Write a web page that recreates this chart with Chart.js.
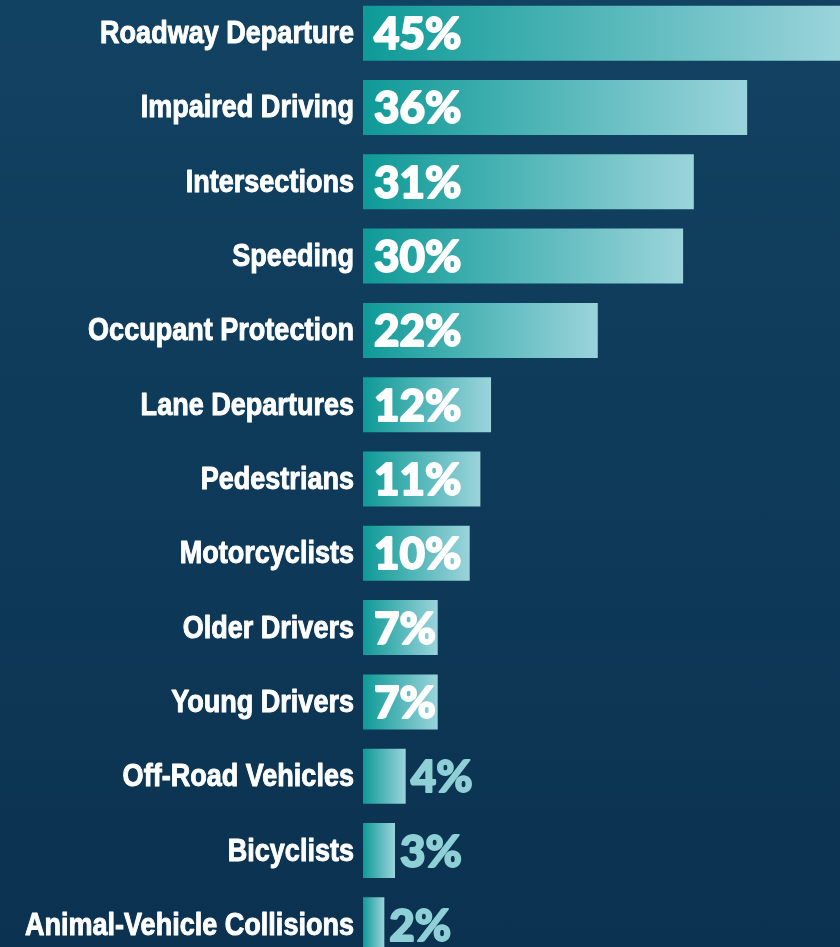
<!DOCTYPE html>
<html lang="en">
  <head>
    <meta charset="UTF-8" />
    <title>Emphasis areas</title>
    <script src="https://cdn.jsdelivr.net/npm/chart.js@4"></script>
    <style>
      html, body {
        margin: 0;
        width: 840px;
        height: 947px;
        overflow: hidden;
        background: linear-gradient(to bottom, #124262, #0b3250);
      }
      #wrap {
        position: absolute;
        left: 0;
        top: -4px;
      }
    </style>
  </head>
  <body>
    <div id="wrap"><canvas id="barChart" width="840" height="966"></canvas></div>
    <script>
      const categories = [
        "Roadway Departure", "Impaired Driving", "Intersections", "Speeding",
        "Occupant Protection", "Lane Departures", "Pedestrians", "Motorcyclists",
        "Older Drivers", "Young Drivers", "Off-Road Vehicles", "Bicyclists",
        "Animal-Vehicle Collisions"
      ];
      const values = [45, 36, 31, 30, 22, 12, 11, 10, 7, 7, 4, 3, 2];
      const insideMin = 7; // smaller values get their label outside the bar

      function barGradient(c) {
        const chart = c.chart;
        if (!chart.chartArea) return "#4fabb0";
        const x = chart.scales.x;
        const x0 = x.getPixelForValue(0);
        const x1 = x.getPixelForValue(values[c.dataIndex]);
        const g = chart.ctx.createLinearGradient(x0, 0, x1, 0);
        g.addColorStop(0, "#0e9a97");
        g.addColorStop(1, "#9bd4db");
        return g;
      }

      // category names, squeezed sideways to look like the condensed face of the original
      const categoryLabels = {
        id: "categoryLabels",
        afterDraw(chart) {
          const ctx = chart.ctx;
          const y = chart.scales.y;
          const right = chart.chartArea.left - 9;
          ctx.save();
          ctx.font = "bold 32px 'Liberation Sans', Arial, sans-serif";
          ctx.textAlign = "right";
          ctx.textBaseline = "alphabetic";
          ctx.fillStyle = "#ffffff";
          ctx.strokeStyle = "#ffffff";
          ctx.lineWidth = 1;
          ctx.lineJoin = "round";
          categories.forEach((name, i) => {
            ctx.save();
            ctx.translate(right, y.getPixelForTick(i) + 10);
            ctx.scale(0.845, 1);
            ctx.fillText(name, 0, 0);
            ctx.strokeText(name, 0, 0);
            ctx.restore();
          });
          ctx.restore();
        }
      };

      // percent labels, inside the bar (white) or just past its end (light teal)
      const valueLabels = {
        id: "valueLabels",
        afterDatasetsDraw(chart) {
          const ctx = chart.ctx;
          const meta = chart.getDatasetMeta(0);
          ctx.save();
          ctx.font = "900 44px Lato, 'DejaVu Sans', sans-serif";
          ctx.textBaseline = "alphabetic";
          ctx.textAlign = "left";
          ctx.lineWidth = 1.8;
          ctx.lineJoin = "round";
          meta.data.forEach((bar, i) => {
            const v = values[i];
            const txt = v + "%";
            const inside = v >= insideMin;
            const x = inside ? bar.base + 11 : bar.x + 5;
            ctx.fillStyle = ctx.strokeStyle = inside ? "#ffffff" : "#8fd0d6";
            ctx.fillText(txt, x, bar.y + 16);
            ctx.strokeText(txt, x, bar.y + 16);
          });
          ctx.restore();
        }
      };

      new Chart(document.getElementById("barChart"), {
        type: "bar",
        data: {
          labels: categories,
          datasets: [{
            data: values,
            backgroundColor: barGradient,
            borderWidth: 0,
            barPercentage: 0.74,
            categoryPercentage: 1,
          }],
        },
        options: {
          indexAxis: "y",
          responsive: false,
          animation: false,
          layout: { padding: 0 },
          plugins: {
            legend: { display: false },
            tooltip: { enabled: false },
          },
          scales: {
            x: {
              display: false,
              min: 0,
              max: 44.7,
            },
            y: {
              border: { display: false },
              grid: { display: false, drawTicks: false },
              ticks: { display: false },
              afterFit(scale) {
                scale.width = 363;
                scale.paddingTop = 0;
                scale.paddingBottom = 0;
              },
            },
          },
        },
        plugins: [valueLabels, categoryLabels],
      });
    </script>
  </body>
</html>
